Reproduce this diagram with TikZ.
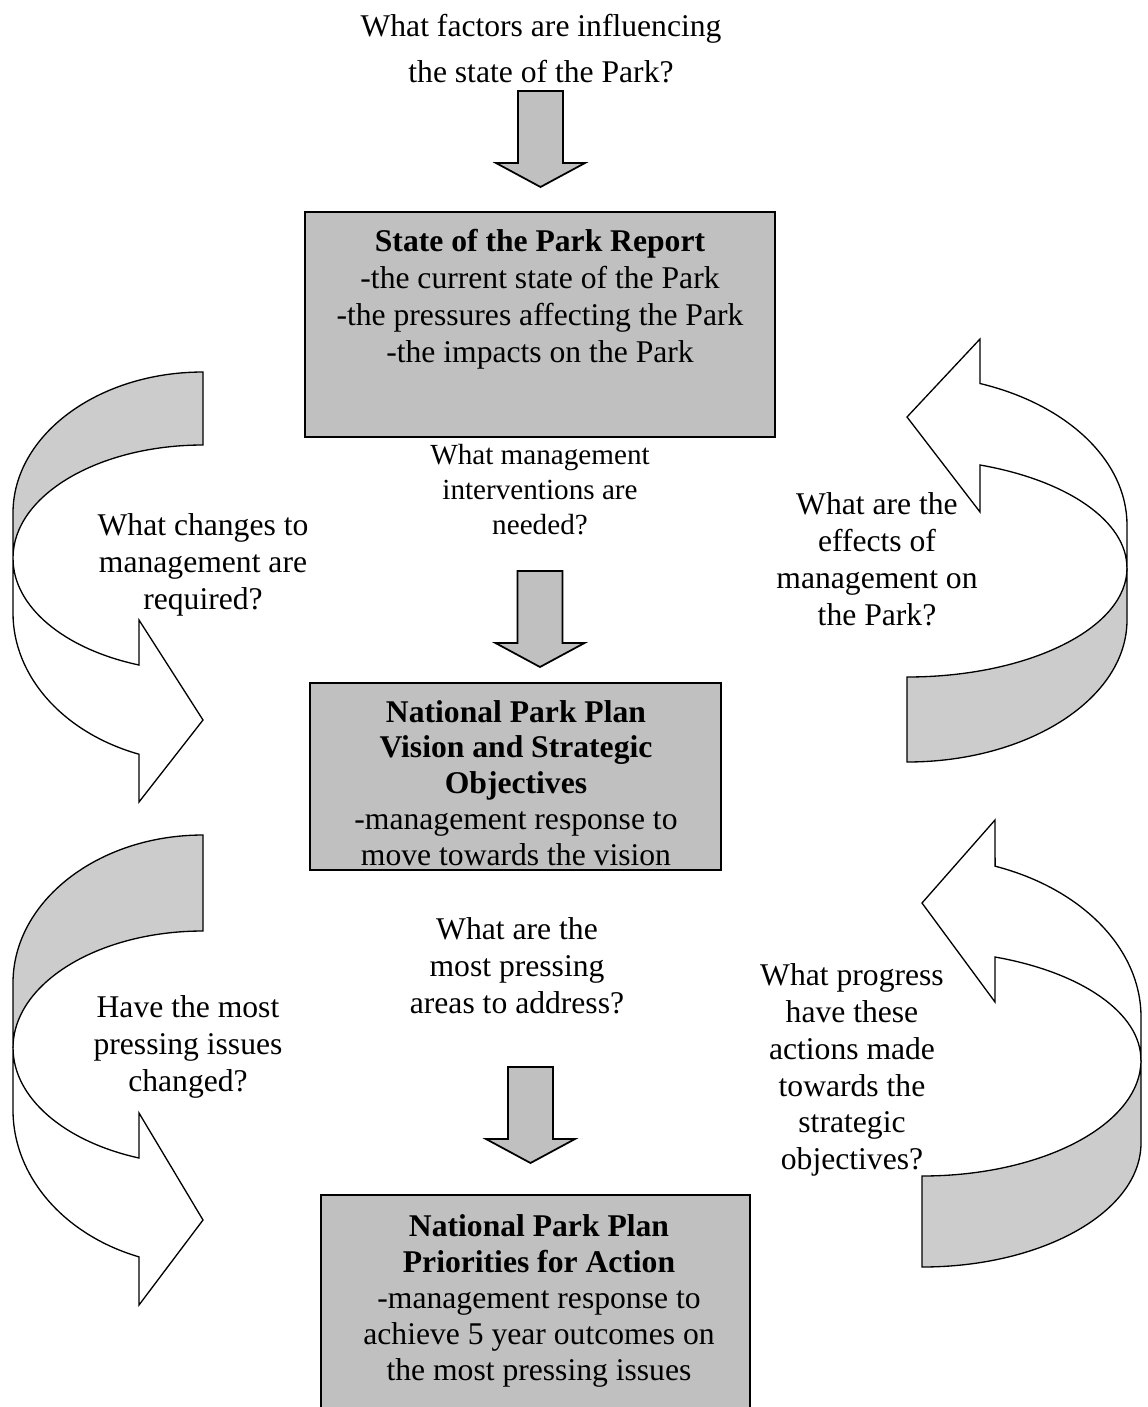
\documentclass[tikz,border=0pt]{standalone}
\usepackage{fontspec}
\setmainfont{Liberation Serif}
\usepackage{tikz}

\definecolor{boxgray}{HTML}{C0C0C0}
\definecolor{backgray}{HTML}{CCCCCC}

\tikzset{
  parkbox/.style={draw, line width=1.3pt, fill=boxgray, inner sep=0pt},
  boxtext/.style={align=center, inner sep=0pt, font=\fontsize{18}{20.4}\selectfont},
  question/.style={align=center, inner sep=0pt, font=\fontsize{18}{21}\selectfont},
  blockarrow/.style={draw, line width=1pt, fill=boxgray, line join=miter},
  ribbon/.style={draw, line width=0.75pt, fill=white},
  ribbonback/.style={draw, line width=0.75pt, fill=backgray},
}

\begin{document}
\begin{tikzpicture}[x=0.02cm, y=-0.02cm]
\useasboundingbox (0,0) rectangle (1148,1407);
\clip (0,0) rectangle (1148,1407);

% curved arrows on the left
\draw[ribbon] (13,558) -- (13,613) arc[start angle=180, end angle=109.7, x radius=190, y radius=150] -- (139,802) -- (203,720) -- (139,620) -- (139,665) arc[start angle=109.7, end angle=180, x radius=190, y radius=113] -- cycle;
\draw[ribbonback] (203,372) arc[start angle=270, end angle=180, x radius=190, y radius=141] -- (13,558) arc[start angle=180, end angle=270, x radius=190, y radius=113] -- cycle;

\draw[ribbon] (13,1048) -- (13,1110) arc[start angle=180, end angle=109.7, x radius=190, y radius=156] -- (139,1305) -- (203,1220) -- (139,1113) -- (139,1158) arc[start angle=109.7, end angle=180, x radius=190, y radius=117] -- cycle;
\draw[ribbonback] (203,835) arc[start angle=270, end angle=180, x radius=190, y radius=148] -- (13,1048) arc[start angle=180, end angle=270, x radius=190, y radius=117] -- cycle;

% curved arrows on the right
\draw[ribbon] (1127,568) -- (1127,525) arc[start angle=0, end angle=-70.6, x radius=220, y radius=150] -- (980,339) -- (907,417) -- (980,512) -- (980,465) arc[start angle=-70.6, end angle=0, x radius=220, y radius=109] -- cycle;
\draw[ribbonback] (907,762) arc[start angle=90, end angle=0, x radius=220, y radius=142] -- (1127,568) arc[start angle=0, end angle=90, x radius=220, y radius=109] -- cycle;

\draw[ribbon] (1141,1060) -- (1141,1017) arc[start angle=0, end angle=-70.5, x radius=219, y radius=160] -- (995,820) -- (922,903) -- (995,1002) -- (995,957) arc[start angle=-70.5, end angle=0, x radius=219, y radius=109] -- cycle;
\draw[ribbonback] (922,1267) arc[start angle=90, end angle=0, x radius=219, y radius=124] -- (1141,1060) arc[start angle=0, end angle=90, x radius=219, y radius=116] -- cycle;

% boxes
\node[parkbox, minimum width=9.4cm, minimum height=4.5cm] (report) at (540,324.5) {};
\node[parkbox, minimum width=8.22cm, minimum height=3.74cm] (vision) at (515.5,776.5) {};
\node[parkbox, minimum width=8.58cm, minimum height=4.5cm] (priorities) at (535.5,1307.5) {};

\node[boxtext, font=\fontsize{18}{21}\selectfont] (reporttext) at (540,299.5) {\textbf{State of the Park Report}\\-the current state of the Park\\-the pressures affecting the Park\\-the impacts on the Park};
\node[boxtext] (visiontext) at (516,783) {\textbf{National Park Plan}\\\textbf{Vision and Strategic}\\\textbf{Objectives}\\-management response to\\move towards the vision};
\node[boxtext] (prioritiestext) at (539,1301) {\textbf{National Park Plan}\\\textbf{Priorities for Action}\\-management response to\\achieve 5 year outcomes on\\the most pressing issues};

% questions
\node[question, font=\fontsize{18}{26.5}\selectfont] (qfactors) at (541,48.5) {What factors are influencing\\the state of the Park?};
\node[question, font=\fontsize{16.6}{19.9}\selectfont] (qinterventions) at (540,490) {What management\\interventions are\\needed?};
\node[question] (qpressing) at (517,966) {What are the\\most pressing\\areas to address?};
\node[question] (qchanges) at (203,565) {What changes to\\management are\\required?};
\node[question] (qissues) at (188,1047) {Have the most\\pressing issues\\changed?};
\node[question] (qeffects) at (877,559) {What are the\\effects of\\management on\\the Park?};
\node[question] (qprogress) at (852,1070) {What progress\\have these\\actions made\\towards the\\strategic\\objectives?};

% block arrows
\coordinate (down1) at (540.5,91);
\coordinate (down2) at (540,571);
\coordinate (down3) at (530.5,1067);
\foreach \a in {down1,down2,down3}
  \draw[blockarrow] (\a) ++(-22.5,0) -- ++(45,0) -- ++(0,72) -- ++(22,0) -- ++(-44.5,24) -- ++(-44.5,-24) -- ++(22,0) -- cycle;
\end{tikzpicture}
\end{document}
